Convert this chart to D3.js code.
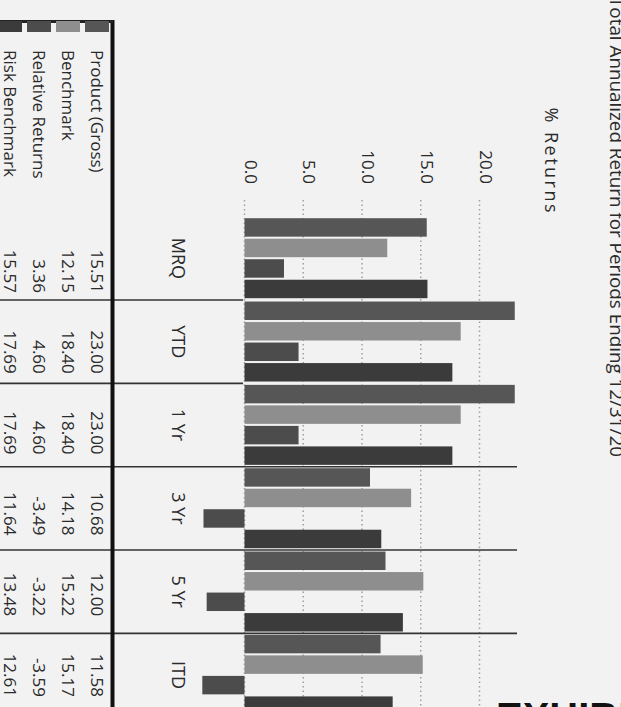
<!DOCTYPE html>
<html>
<head>
<meta charset="utf-8">
<script src="https://cdn.jsdelivr.net/npm/d3@7"></script>
<style>
  html, body { margin: 0; padding: 0; background: #f2f2f2; }
  svg { display: block; font-family: "Open Sans", sans-serif; }
</style>
</head>
<body>
<div id="chart"></div>
<script>
// data
const categories = ["MRQ", "YTD", "1 Yr", "3 Yr", "5 Yr", "ITD"];
const seriesNames = ["Product (Gross)", "Benchmark", "Relative Returns", "Risk Benchmark"];
const productGross = [15.51, 23.00, 23.00, 10.68, 12.00, 11.58];
const benchmark = [12.15, 18.40, 18.40, 14.18, 15.22, 15.17];
const relativeReturns = [3.36, 4.60, 4.60, -3.49, -3.22, -3.59];
const riskBenchmark = [15.57, 17.69, 17.69, 11.64, 13.48, 12.61];
const tickValues = [0, 5, 10, 15, 20];
const titleText = "Total Annualized Return for Periods Ending 12/31/20";

const seriesValues = [productGross, benchmark, relativeReturns, riskBenchmark];
const seriesColors = ["#565656", "#8e8e8e", "#4c4c4c", "#3b3b3b"];

const W = 621, H = 707;

const svg = d3.select("#chart").append("svg")
    .attr("width", W)
    .attr("height", H);

svg.append("rect").attr("width", W).attr("height", H).attr("fill", "#f2f2f2");

// the scanned page is turned a quarter turn, so draw the page upright and rotate it
const page = svg.append("g")
    .attr("transform", `translate(${W},0) rotate(90)`);

// scales (page coordinates: width = 707, height = 621)
const x = d3.scaleBand().domain(categories).range([216.7, 716.7]).paddingInner(0).paddingOuter(0);
const xs = d3.scaleBand().domain(seriesNames).range([1.5, 81.5]).paddingInner(0.1);
const y = d3.scaleLinear().domain([0, 20]).range([376.5, 141.5]);
const row = d3.scaleBand().domain(seriesNames).range([509.5, 625.5]);
// the table's number columns are a little narrower than the chart bands
const tableCol = d3.scaleBand().domain(categories).range([212.2, 697]);

// title
page.append("text")
    .attr("x", -3)
    .attr("y", 11)
    .attr("textLength", 460)
    .attr("lengthAdjust", "spacingAndGlyphs")
    .style("font-size", "18px")
    .style("fill", "#2a2a2a")
    .text(titleText);

page.append("text")
    .attr("x", 160)
    .attr("y", 76)
    .attr("text-anchor", "middle")
    .attr("textLength", 105)
    .style("font-size", "18px")
    .style("fill", "#2a2a2a")
    .text("% Returns");

// grid lines
page.append("g").selectAll("line")
    .data(tickValues)
    .enter()
    .append("line")
    .attr("x1", 200)
    .attr("x2", 720)
    .attr("y1", d => y(d))
    .attr("y2", d => y(d))
    .style("stroke", "#a0a0a0")
    .style("stroke-width", 1.5)
    .style("stroke-dasharray", "1.5,3");

// value axis labels
const yAxis = page.append("g")
    .attr("transform", "translate(187,0)")
    .call(d3.axisLeft(y).tickValues(tickValues).tickFormat(d3.format(".1f")).tickSize(0).tickPadding(3));
yAxis.select(".domain").remove();
yAxis.selectAll("text")
    .attr("y", -6)
    .style("font-size", "17px")
    .style("font-family", "Open Sans, sans-serif")
    .style("fill", "#2a2a2a");

// bars
const groups = page.append("g").selectAll("g")
    .data(categories)
    .enter()
    .append("g")
    .attr("transform", d => `translate(${x(d)},0)`);

groups.selectAll("rect")
    .data((d, ci) => seriesNames.map((s, si) => ({ s: s, si: si, v: seriesValues[si][ci] })))
    .enter()
    .append("rect")
    .attr("x", d => xs(d.s))
    .attr("width", xs.bandwidth())
    .attr("y", d => y(Math.max(0, d.v)))
    .attr("height", d => Math.abs(y(d.v) - y(0)))
    .style("fill", d => seriesColors[d.si]);

// category labels
page.append("g").selectAll("text")
    .data(categories)
    .enter()
    .append("text")
    .attr("x", d => x(d) + x.bandwidth() / 2)
    .attr("y", 443)
    .attr("dy", "0.35em")
    .attr("text-anchor", "middle")
    .style("font-size", "18px")
    .style("fill", "#2a2a2a")
    .text(d => d);

// separators between periods; the first two stop at the zero line as on the page
page.append("g").selectAll("line")
    .data(categories.slice(1))
    .enter()
    .append("line")
    .attr("x1", d => x(d))
    .attr("x2", d => x(d))
    .attr("y1", 621)
    .attr("y2", (d, i) => i < 2 ? 378 : 104)
    .style("stroke", "#333")
    .style("stroke-width", 1.6);

// table border
page.append("line")
    .attr("x1", 20).attr("x2", 720)
    .attr("y1", 508.5).attr("y2", 508.5)
    .style("stroke", "#111")
    .style("stroke-width", 4);
page.append("line")
    .attr("x1", 21.5).attr("x2", 21.5)
    .attr("y1", 508).attr("y2", 625)
    .style("stroke", "#222")
    .style("stroke-width", 3);

// legend swatches
page.append("g").selectAll("rect")
    .data(seriesNames)
    .enter()
    .append("rect")
    .attr("x", 21)
    .attr("width", 11)
    .attr("y", d => row(d) + 2.5)
    .attr("height", row.bandwidth() - 5)
    .style("fill", (d, i) => seriesColors[i]);

// row labels
page.append("g").selectAll("text")
    .data(seriesNames)
    .enter()
    .append("text")
    .attr("x", 50)
    .attr("y", d => row(d) + row.bandwidth() / 2)
    .attr("dy", "0.35em")
    .style("font-size", "17px")
    .style("fill", "#2a2a2a")
    .text(d => d);

// table values
seriesNames.forEach((s, si) => {
    page.append("g").selectAll("text")
        .data(categories)
        .enter()
        .append("text")
        .attr("x", d => tableCol(d) + tableCol.bandwidth())
        .attr("y", row(s) + row.bandwidth() / 2)
        .attr("dy", "0.35em")
        .attr("text-anchor", "end")
        .style("font-size", "17px")
        .style("fill", "#2a2a2a")
        .text((d, ci) => seriesValues[si][ci].toFixed(2));
});

// cut-off page heading at the bottom edge
svg.append("text")
    .attr("x", 496)
    .attr("y", 731)
    .style("font-family", "Liberation Sans, Arial, sans-serif")
    .style("font-weight", "bold")
    .style("font-size", "40px")
    .style("fill", "#111")
    .text("EXHIBIT");
</script>
</body>
</html>
